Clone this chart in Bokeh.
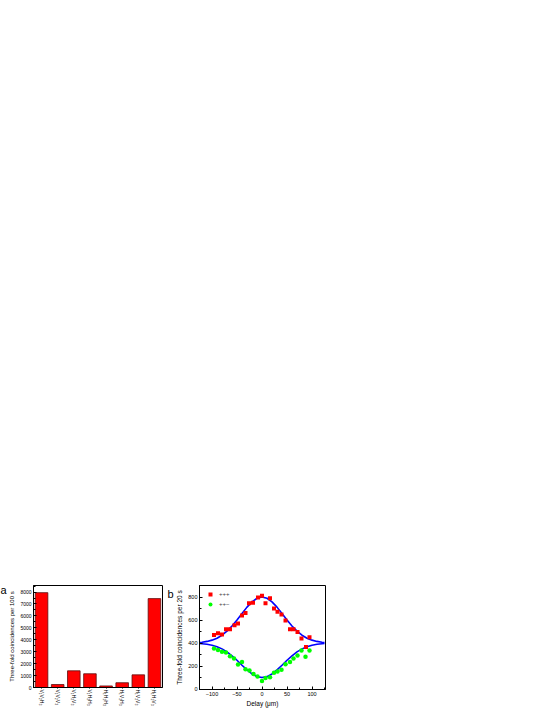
from bokeh.plotting import figure
from bokeh.models import (FactorRange, Range1d, Legend, LegendItem,
                          Spacer, Label, FixedTicker)
from bokeh.layouts import column, row
from bokeh.embed import file_html
from bokeh.resources import INLINE

FONT = "Liberation Sans"

# ---- panel a data ----
categories = ["V₁V₂H₃", "V₁V₂V₃", "V₁H₂V₃", "V₁H₂H₃",
              "H₁H₂H₃", "H₁V₂H₃", "H₁V₂V₃", "H₁H₂V₃"]
counts = [7950, 250, 1400, 1150, 130, 400, 1060, 7450]
a_yticks = [0, 1000, 2000, 3000, 4000, 5000, 6000, 7000, 8000]

# ---- panel b data ----
delay_red = [-96, -88, -80, -72, -64, -55, -48, -40, -33, -26, -18, -8, 0,
             7, 16, 24, 31, 39, 47, 56, 63, 71, 79, 88, 95]
counts_red = [470, 485, 475, 520, 520, 555, 570, 640, 660, 745, 750, 795, 810,
              745, 790, 700, 672, 648, 595, 520, 520, 495, 440, 365, 450]
delay_green = [-96, -88, -80, -72, -64, -56, -48, -40, -33, -25, -17, -9, 0,
               7, 16, 24, 31, 39, 47, 56, 63, 71, 79, 87, 95]
counts_green = [352, 340, 325, 318, 285, 265, 213, 235, 172, 162, 130, 110, 70,
                97, 103, 141, 152, 168, 215, 235, 265, 292, 336, 281, 336]
fit_delay = [-125, -120, -110, -100, -90, -80, -70, -60, -50, -40, -30, -20, -10, 0,
             10, 20, 30, 40, 50, 60, 70, 80, 90, 100, 110, 120, 125]
fit_upper = [405, 407, 414, 425, 442, 468, 503, 548, 600, 657, 712, 758, 789, 800,
             789, 758, 712, 657, 600, 548, 503, 468, 442, 425, 414, 407, 405]
fit_lower = [396, 394, 389, 381, 368, 349, 323, 289, 250, 207, 166, 131, 108, 100,
             108, 131, 166, 207, 250, 289, 323, 349, 368, 381, 389, 394, 396]
b_xticks = [-100, -50, 0, 50, 100]
b_xminor = [-125, -75, -25, 25, 75, 125]
b_yticks = [0, 200, 400, 600, 800]
b_yminor = [100, 300, 500, 700, 900]


def style_axis(ax, label_size="5px"):
    ax.major_label_text_font = FONT
    ax.major_label_text_font_size = label_size
    ax.major_label_text_color = "black"
    ax.axis_label_text_font = FONT
    ax.axis_label_text_font_style = "normal"
    ax.axis_label_text_color = "black"
    ax.axis_line_color = "black"
    ax.major_tick_line_color = "black"
    ax.minor_tick_line_color = "black"
    ax.major_tick_in = 3
    ax.major_tick_out = 0
    ax.minor_tick_in = 2
    ax.minor_tick_out = 0
    ax.major_label_standoff = 2
    ax.axis_label_standoff = 2


# ---------------- panel a ----------------
pa = figure(frame_width=129, frame_height=102,
            x_range=FactorRange(factors=categories, range_padding=0),
            y_range=Range1d(0, 8550), output_backend="svg", toolbar_location=None,
            min_border_left=25, min_border_right=5, min_border_top=12, min_border_bottom=10)
pa.vbar(x=categories, top=counts, width=0.78, fill_color="#FF0000",
        line_color="#5a1010", line_width=0.8)
pa.xgrid.grid_line_color = None
pa.ygrid.grid_line_color = None
pa.outline_line_color = "black"
pa.background_fill_color = "white"

ya = pa.yaxis[0]
style_axis(ya)
ya.ticker = FixedTicker(ticks=a_yticks, minor_ticks=[v + 500 for v in a_yticks])
ya.axis_label = "Three-fold coincidences per 100 s"
ya.axis_label_text_font_size = "6px"
ya.axis_label_standoff = 2

xa = pa.xaxis[0]
style_axis(xa, "5px")
xa.major_label_orientation = "vertical"
xa.major_tick_in = 0
xa.major_tick_out = 1
xa.major_label_standoff = 1

pa.add_layout(Label(x=0, y=92, x_units="screen", y_units="screen", text="a",
                    text_font=FONT, text_font_size="11px", text_color="black"), "left")

# ---------------- panel b ----------------
pb = figure(frame_width=126, frame_height=104, x_range=Range1d(-125, 127),
            y_range=Range1d(-4, 900),
            output_backend="svg", toolbar_location=None,
            min_border_left=30, min_border_right=12, min_border_top=11, min_border_bottom=10)
pb.xgrid.grid_line_color = None
pb.ygrid.grid_line_color = None
pb.outline_line_color = "black"

pb.line(fit_delay, fit_upper, line_color="#0000FF", line_width=1.6)
pb.line(fit_delay, fit_lower, line_color="#0000FF", line_width=1.6)
r_red = pb.scatter(delay_red, counts_red, marker="square", size=4,
                   fill_color="#FF0000", line_color="#FF0000", line_width=0)
r_green = pb.scatter(delay_green, counts_green, marker="circle", size=4.5,
                     fill_color="#00FF00", line_color="#00FF00", line_width=0)

xb = pb.xaxis[0]
style_axis(xb, "5.5px")
xb.ticker = FixedTicker(ticks=b_xticks, minor_ticks=b_xminor)
xb.axis_label = "Delay (μm)"
xb.axis_label_text_font_size = "6.5px"
xb.axis_label_standoff = 1

yb = pb.yaxis[0]
style_axis(yb, "5.5px")
yb.ticker = FixedTicker(ticks=b_yticks, minor_ticks=b_yminor)
yb.axis_label = "Three-fold coincidences per 20 s"
yb.axis_label_text_font_size = "6.5px"

legend = Legend(items=[LegendItem(label="+++", renderers=[r_red]),
                       LegendItem(label="++−", renderers=[r_green])],
                location="top_left", margin=3, padding=1, spacing=-1,
                glyph_width=14, glyph_height=10, label_standoff=2,
                label_text_font=FONT, label_text_font_size="6px",
                label_text_color="#444444", label_height=8,
                border_line_alpha=0, background_fill_alpha=0)
pb.add_layout(legend)

pb.add_layout(Label(x=0, y=90, x_units="screen", y_units="screen", text="b",
                    text_font=FONT, text_font_size="11px", text_color="black"), "left")

layout = column(Spacer(width=10, height=573), row(pa, pb))

open("out.html", "w").write(file_html(layout, INLINE))
